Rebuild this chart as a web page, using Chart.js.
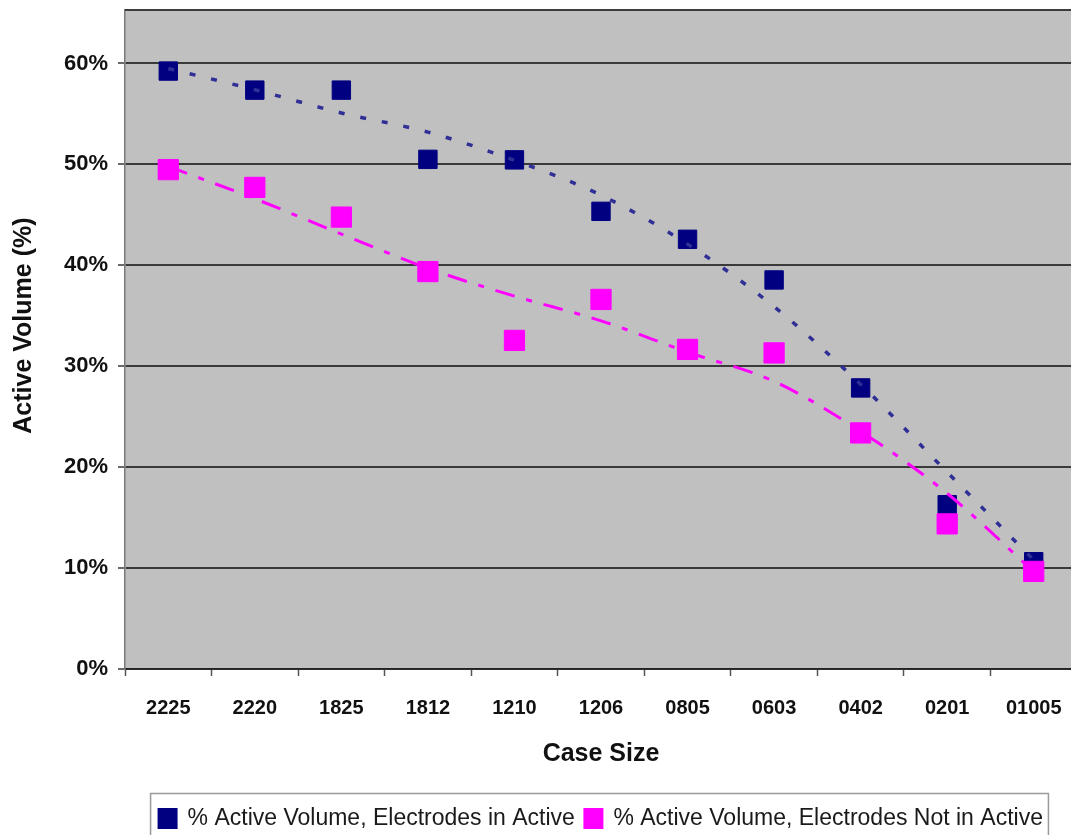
<!DOCTYPE html>
<html>
<head>
<meta charset="utf-8">
<title>Active Volume by Case Size</title>
<script src="https://cdn.jsdelivr.net/npm/chart.js@4.4.1/dist/chart.umd.min.js"></script>
<style>
  html, body { margin: 0; padding: 0; background: #ffffff; overflow: hidden; }
  #wrap { width: 1071px; height: 835px; overflow: hidden; }
  canvas { display: block; }
</style>
</head>
<body>
<div id="wrap"><canvas id="chart" width="1078" height="835"></canvas></div>
<script>
// Case sizes along the x axis
const caseSizes = ['2225', '2220', '1825', '1812', '1210', '1206', '0805', '0603', '0402', '0201', '01005'];

// Measured active volume (fraction of part volume)
const electrodesInActive    = [0.5925, 0.5736, 0.5736, 0.5050, 0.5045, 0.4535, 0.4258, 0.3855, 0.2785, 0.1628, 0.1063];
const electrodesNotInActive = [0.4948, 0.4772, 0.4478, 0.3938, 0.3256, 0.3662, 0.3167, 0.3132, 0.2339, 0.1438, 0.0967];

// Fitted trend values at each case size
const trendInActive    = [0.595, 0.574, 0.551, 0.532, 0.504, 0.4695, 0.421, 0.359, 0.282, 0.195, 0.108];
const trendNotInActive = [0.498, 0.466, 0.431, 0.397, 0.3695, 0.345, 0.314, 0.285, 0.2355, 0.174, 0.0965];

// Y axis tick values
const yTickValues = [0, 0.1, 0.2, 0.3, 0.4, 0.5, 0.6];

const seriesNames = ['% Active Volume, Electrodes in Active', '% Active Volume, Electrodes Not in Active'];

const FONT = "'Liberation Sans', Arial, Helvetica, sans-serif";

// Grey plot background, frame lines and the box round the legend
const plotFrame = {
  id: 'plotFrame',
  beforeDraw(chart) {
    const { ctx, chartArea: a } = chart;
    ctx.save();
    ctx.fillStyle = '#C0C0C0';
    ctx.fillRect(a.left, a.top, a.right - a.left, a.bottom - a.top);
    ctx.restore();
  },
  beforeDatasetsDraw(chart) {
    const { ctx, chartArea: a } = chart;
    ctx.save();
    ctx.strokeStyle = '#3c3c3c';
    ctx.lineWidth = 2;
    ctx.beginPath();
    ctx.moveTo(a.left, a.top);
    ctx.lineTo(a.right, a.top);
    ctx.stroke();
    ctx.restore();
  },
  afterDraw(chart) {
    const lg = chart.legend;
    if (!lg || !lg.legendHitBoxes || !lg.legendHitBoxes.length) return;
    const boxes = lg.legendHitBoxes;
    const left = Math.min(...boxes.map(b => b.left)) - 9;
    const right = Math.max(...boxes.map(b => b.left + b.width)) + 5;
    const top = Math.min(...boxes.map(b => b.top)) - 14;
    const { ctx } = chart;
    ctx.save();
    ctx.strokeStyle = '#9a9a9a';
    ctx.lineWidth = 1.5;
    ctx.strokeRect(left + 0.5, top + 0.5, right - left, chart.height - top + 10);
    ctx.restore();
  }
};

new Chart(document.getElementById('chart'), {
  type: 'line',
  data: {
    labels: caseSizes,
    datasets: [
      {
        label: seriesNames[0],
        data: electrodesInActive,
        showLine: false,
        pointStyle: 'rect',
        pointRadius: 13,
        pointBorderWidth: 1,
        backgroundColor: '#000080',
        borderColor: '#000080',
        order: 4
      },
      {
        label: seriesNames[1],
        data: electrodesNotInActive,
        showLine: false,
        pointStyle: 'rect',
        pointRadius: 14.3,
        pointBorderWidth: 1,
        backgroundColor: '#FF00FF',
        borderColor: '#FF00FF',
        order: 3
      },
      {
        label: 'trend-in',
        data: trendInActive,
        borderColor: '#2f2f95',
        borderWidth: 3.5,
        borderDash: [6, 16],
        pointRadius: 0,
        fill: false,
        cubicInterpolationMode: 'monotone',
        order: 2
      },
      {
        label: 'trend-not-in',
        data: trendNotInActive,
        borderColor: '#FF00FF',
        borderWidth: 3,
        borderDash: [20, 12, 6, 12],
        pointRadius: 0,
        fill: false,
        cubicInterpolationMode: 'monotone',
        order: 1
      }
    ]
  },
  options: {
    responsive: false,
    animation: false,
    layout: { autoPadding: false, padding: { top: 10, right: 1, bottom: -5, left: 0 } },
    plugins: {
      tooltip: { enabled: false },
      legend: {
        position: 'bottom',
        fullSize: false,
        labels: {
          filter: item => item.datasetIndex < 2,
          sort: (a, b) => a.datasetIndex - b.datasetIndex,
          font: { family: FONT, size: 23 },
          color: '#1a1a1a',
          boxWidth: 17,
          boxHeight: 18,
          padding: 10
        }
      }
    },
    scales: {
      x: {
        offset: true,
        grid: {
          offset: true,
          drawOnChartArea: false,
          drawTicks: true,
          tickLength: 7,
          tickColor: '#555555',
          tickWidth: 1.5
        },
        border: { color: '#222222', width: 1.5 },
        ticks: {
          font: { family: FONT, size: 20, weight: 'bold' },
          color: '#111111',
          padding: 20,
          maxRotation: 0,
          autoSkip: false
        },
        title: {
          display: true,
          text: 'Case Size',
          font: { family: FONT, size: 25, weight: 'bold' },
          color: '#111111',
          padding: { top: 0, bottom: 28 }
        },
        afterFit: s => {
          s.height = 128;
          s.paddingLeft = 0;
          s.paddingRight = 0;
        }
      },
      y: {
        min: 0,
        max: 0.653,
        afterBuildTicks: s => { s.ticks = yTickValues.map(v => ({ value: v })); },
        grid: {
          color: '#3a3a3a',
          lineWidth: 2,
          drawTicks: true,
          tickLength: 7,
          tickColor: '#3a3a3a',
          tickWidth: 1.5
        },
        border: { color: '#7a7a7a', width: 1.5 },
        ticks: {
          font: { family: FONT, size: 22, weight: 'bold' },
          color: '#111111',
          padding: 10,
          callback: v => Math.round(v * 100) + '%'
        },
        title: {
          display: true,
          text: '\u00A0\u00A0\u00A0\u00A0Active Volume (%)',
          font: { family: FONT, size: 25, weight: 'bold' },
          color: '#111111',
          padding: { top: 9, bottom: 0 }
        },
        afterFit: s => {
          s.width = 125;
          s.paddingTop = 0;
          s.paddingBottom = 0;
        }
      }
    }
  },
  plugins: [plotFrame]
});
</script>
</body>
</html>
